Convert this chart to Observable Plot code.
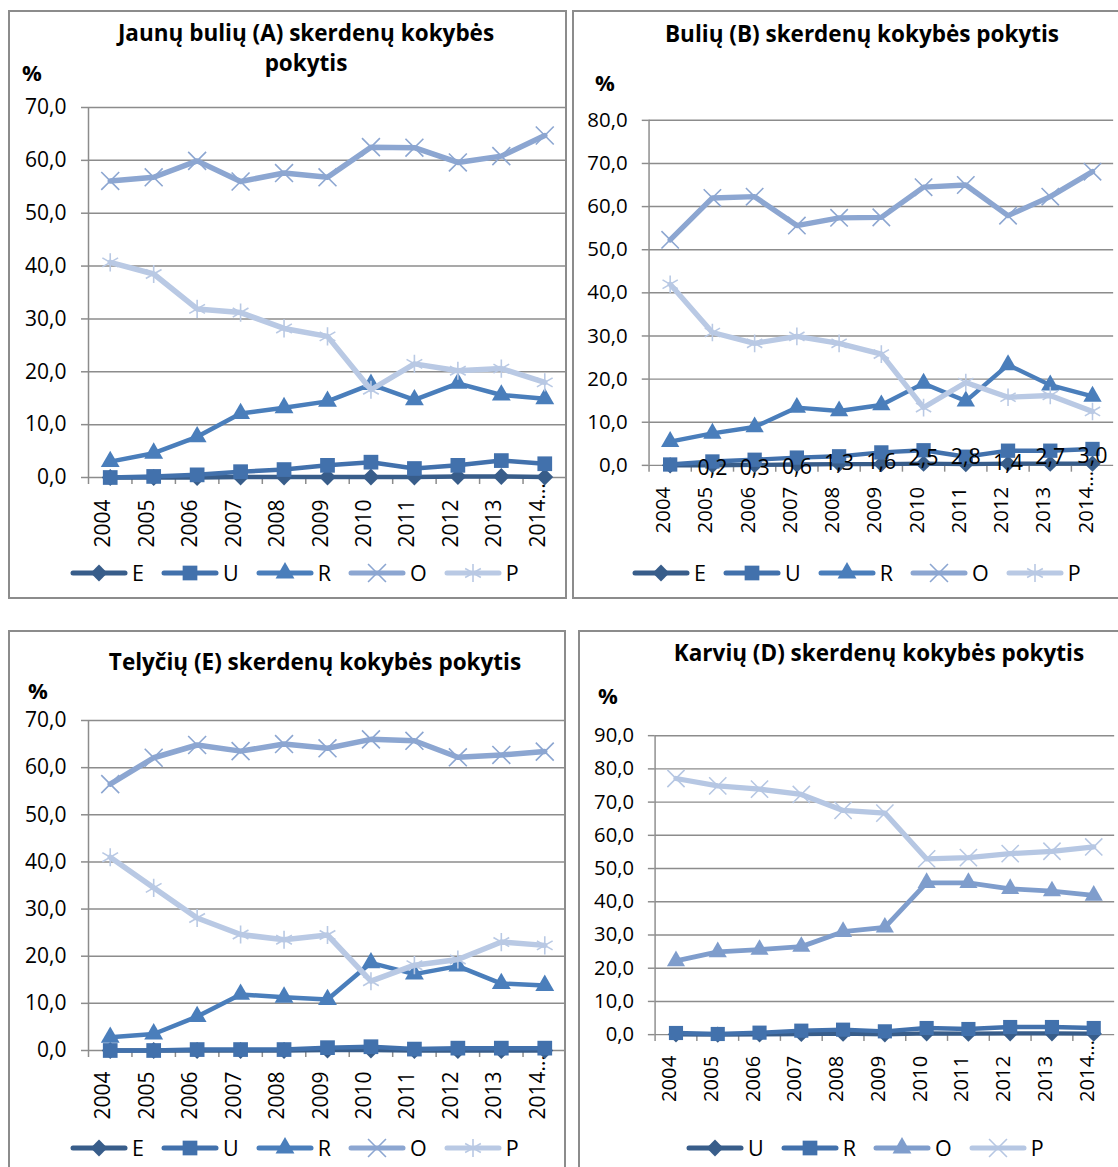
<!DOCTYPE html>
<html><head><meta charset="utf-8">
<script src="https://cdn.jsdelivr.net/npm/d3@7"></script>
<script src="https://cdn.jsdelivr.net/npm/@observablehq/plot@0.6"></script>
<style>
html,body{margin:0;padding:0;background:#fff;}
body{width:1118px;height:1167px;overflow:hidden;position:relative;font-family:'Open Sans',sans-serif;color:#000;}
.box{position:absolute;border:2px solid #8c8c8c;box-sizing:border-box;}
.title{position:absolute;font-weight:bold;font-size:22.5px;line-height:30px;text-align:center;white-space:nowrap;transform:translate(-50%,-50%);}
.pct{position:absolute;font-weight:bold;font-size:22px;line-height:1;transform:translateY(-50%);}
.plot{position:absolute;}
.legend{position:absolute;display:flex;align-items:center;gap:17px;font-size:21.5px;line-height:1;transform:translateY(-50%);white-space:nowrap;}
.item{display:flex;align-items:center;gap:4px;}
.item svg{display:block;}
</style></head><body>
<script>
// ---------- data ----------
const years = ["2004","2005","2006","2007","2008","2009","2010","2011","2012","2013","2014…"];

// Jaunų bulių (A)
const aSeries = ["E","U","R","O","P"];
const aE = [0.0, 0.0, 0.0, 0.1, 0.1, 0.1, 0.1, 0.1, 0.2, 0.2, 0.1];
const aU = [0.0, 0.2, 0.5, 1.1, 1.5, 2.3, 2.9, 1.7, 2.3, 3.2, 2.6];
const aR = [3.0, 4.6, 7.7, 12.1, 13.2, 14.4, 17.6, 14.7, 17.8, 15.6, 14.9];
const aO = [56.1, 56.8, 59.9, 56.0, 57.6, 56.8, 62.5, 62.4, 59.6, 60.8, 64.7];
const aP = [40.7, 38.5, 31.9, 31.2, 28.2, 26.7, 16.6, 21.5, 20.2, 20.6, 18.0];

// Bulių (B)
const bSeries = ["E","U","R","O","P"];
const bE = [0.0, 0.0, 0.1, 0.2, 0.3, 0.3, 0.4, 0.3, 0.4, 0.4, 0.4];
const bU = [0.2, 0.9, 1.3, 1.8, 2.1, 3.0, 3.5, 2.0, 3.4, 3.4, 3.8];
const bR = [5.5, 7.4, 8.9, 13.4, 12.6, 14.0, 19.0, 14.9, 23.3, 18.6, 16.0];
const bO = [52.3, 62.0, 62.3, 55.6, 57.4, 57.5, 64.5, 65.0, 57.9, 62.3, 68.1];
const bP = [42.0, 30.8, 28.3, 29.9, 28.3, 25.8, 13.4, 19.2, 15.8, 16.2, 12.5];
const bLabelYears = ["2005","2006","2007","2008","2009","2010","2011","2012","2013","2014…"];
const bLabelValues = [0.2, 0.3, 0.6, 1.3, 1.6, 2.5, 2.8, 1.4, 2.7, 3.0];

// Telyčių (E)
const cSeries = ["E","U","R","O","P"];
const cE = [0.0, 0.0, 0.0, 0.0, 0.0, 0.1, 0.1, 0.0, 0.0, 0.0, 0.0];
const cU = [0.0, 0.0, 0.2, 0.2, 0.2, 0.6, 0.8, 0.3, 0.5, 0.5, 0.5];
const cR = [2.8, 3.5, 7.2, 11.9, 11.3, 10.8, 18.6, 16.2, 17.9, 14.2, 13.8];
const cO = [56.5, 62.1, 64.8, 63.5, 65.0, 64.1, 66.0, 65.7, 62.2, 62.7, 63.4];
const cP = [41.0, 34.5, 28.1, 24.6, 23.5, 24.5, 14.7, 18.1, 19.3, 23.0, 22.3];

// Karvių (D)
const dSeries = ["U","R","O","P"];
const dU = [0.1, 0.0, 0.1, 0.2, 0.3, 0.1, 0.4, 0.3, 0.4, 0.4, 0.3];
const dR = [0.5, 0.2, 0.6, 1.2, 1.5, 1.0, 2.0, 1.7, 2.3, 2.3, 2.0];
const dO = [22.2, 24.9, 25.6, 26.5, 31.0, 32.3, 45.7, 45.7, 43.9, 43.2, 41.9];
const dP = [77.1, 74.9, 73.9, 72.3, 67.5, 66.7, 52.9, 53.3, 54.5, 55.2, 56.5];

const titles = {
  A: ["Jaunų bulių (A) skerdenų kokybės", "pokytis"],
  B: ["Bulių (B) skerdenų kokybės pokytis"],
  C: ["Telyčių (E) skerdenų kokybės pokytis"],
  D: ["Karvių (D) skerdenų kokybės pokytis"]
};
const unitLabel = "%";

// ---------- styles ----------
const colors5 = ["#385D8A", "#4271AC", "#4A7EBB", "#8CA6D1", "#B9C9E4"];
const symbols5 = ["diamond2", "square", "triangle", "times", "asterisk"];
const radii5 = [7.6, 8.3, 7.0, 8.2, 8.6];
const widths5 = [4.5, 4.5, 4.5, 5.5, 5.5];
const colors4 = ["#385D8A", "#4271AC", "#7F9DCC", "#B6C7E3"];
const symbols4 = ["diamond2", "square", "triangle", "times"];
const radii4 = [7.6, 8.3, 7.0, 8.2];
const widths4 = [4.5, 4.5, 5, 5.5];
const GRID = "#8c8c8c";
const FONT = "'Open Sans', sans-serif";
const fmt = d => d.toFixed(1).replace(".", ",");
const strokeSymbols = new Set(["times", "asterisk"]);
const d3Sym = {diamond2: d3.symbolDiamond2, square: d3.symbolSquare, triangle: d3.symbolTriangle, times: d3.symbolTimes, asterisk: d3.symbolAsterisk};

function el(tag, cls, style, text) {
  const e = document.createElement(tag);
  if (cls) e.className = cls;
  Object.assign(e.style, style || {});
  if (text != null) e.textContent = text;
  document.body.appendChild(e);
  return e;
}

function drawPanel(cfg) {
  el("div", "box", {left: cfg.box[0] + "px", top: cfg.box[1] + "px", width: cfg.box[2] + "px", height: cfg.box[3] + "px"});
  const t = el("div", "title", {left: cfg.title[0] + "px", top: cfg.title[1] + "px"});
  t.innerHTML = cfg.titleLines.join("<br>");
  el("div", "pct", {left: cfg.pct[0] + "px", top: cfg.pct[1] + "px"}, unitLabel);

  const rows = [];
  cfg.series.forEach((s, si) => cfg.values[si].forEach((v, i) => rows.push({series: s, year: years[i], value: v})));
  const plotW = cfg.w - cfg.ml - cfg.mr;
  const bw = plotW / years.length;
  const yTicks = d3.range(0, cfg.yMax + 1, 10);

  const marks = [
    Plot.gridY(yTicks, {stroke: GRID, strokeOpacity: 1, strokeWidth: 1.5}),
    Plot.ruleX([years[0]], {dx: -bw / 2, stroke: GRID, strokeWidth: 1.5}),
    Plot.axisX({tickSize: 7, tickFormat: () => "", label: null, dx: -bw / 2, stroke: GRID, strokeWidth: 1.5}),
    Plot.axisY({ticks: yTicks, tickFormat: fmt, label: null, tickSize: 7, tickPadding: 15, stroke: GRID, strokeWidth: 1.5, fontSize: 21, fill: "#000"}),
    Plot.text(years, {x: d => d, frameAnchor: "bottom", rotate: -90, textAnchor: "start", dy: cfg.labelDy, fontSize: 21, fill: "#000"})
  ];
  cfg.series.forEach((s, si) => {
    const data = rows.filter(r => r.series === s);
    marks.push(Plot.line(data, {x: "year", y: "value", stroke: cfg.colors[si], strokeWidth: cfg.widths[si], strokeLinejoin: "round", strokeLinecap: "round"}));
    const sym = cfg.symbols[si];
    if (strokeSymbols.has(sym)) {
      marks.push(Plot.dot(data, {x: "year", y: "value", symbol: sym, r: cfg.radii[si], stroke: cfg.colors[si], strokeWidth: 1.6, fill: "none"}));
    } else {
      marks.push(Plot.dot(data, {x: "year", y: "value", symbol: sym, r: cfg.radii[si], fill: cfg.colors[si], stroke: "none"}));
    }
  });
  if (cfg.labels) {
    const lrows = cfg.labels.years.map((y, i) => ({year: y, value: cfg.labels.values[i]}));
    marks.push(Plot.text(lrows, {x: "year", y: "value", text: d => fmt(d.value), fontSize: 22, fill: "#000", dy: 4}));
  }

  const svg = Plot.plot({
    width: cfg.w, height: cfg.h,
    marginLeft: cfg.ml, marginRight: cfg.mr, marginTop: cfg.mt, marginBottom: cfg.mb,
    x: {type: "band", domain: years, padding: 0, round: false, label: null},
    y: {domain: [0, cfg.yMax], label: null},
    style: {fontFamily: FONT, fontSize: "21px", color: "#000", background: "transparent", overflow: "visible"},
    marks
  });
  const holder = el("div", "plot", {left: cfg.svgPos[0] + "px", top: cfg.svgPos[1] + "px"});
  holder.appendChild(svg);

  const lg = el("div", "legend", {left: cfg.legend[0] + "px", top: cfg.legend[1] + "px"});
  cfg.series.forEach((s, si) => {
    const item = document.createElement("div");
    item.className = "item";
    const ns = "http://www.w3.org/2000/svg";
    const sv = document.createElementNS(ns, "svg");
    sv.setAttribute("width", 58); sv.setAttribute("height", 24);
    const ln = document.createElementNS(ns, "line");
    ln.setAttribute("x1", 3); ln.setAttribute("x2", 55); ln.setAttribute("y1", 12); ln.setAttribute("y2", 12);
    ln.setAttribute("stroke", cfg.colors[si]); ln.setAttribute("stroke-width", 5); ln.setAttribute("stroke-linecap", "round");
    sv.appendChild(ln);
    const p = document.createElementNS(ns, "path");
    const sym = cfg.symbols[si];
    p.setAttribute("d", d3.symbol(d3Sym[sym], Math.PI * cfg.radii[si] ** 2)());
    p.setAttribute("transform", "translate(29,12)");
    if (strokeSymbols.has(sym)) { p.setAttribute("fill", "none"); p.setAttribute("stroke", cfg.colors[si]); p.setAttribute("stroke-width", 1.6); }
    else p.setAttribute("fill", cfg.colors[si]);
    sv.appendChild(p);
    item.appendChild(sv);
    const tx = document.createElement("span");
    tx.textContent = s;
    item.appendChild(tx);
    lg.appendChild(item);
  });
}

drawPanel({box: [8, 10, 559, 589], title: [306, 48], titleLines: titles.A, pct: [22, 72],
  series: aSeries, values: [aE, aU, aR, aO, aP], colors: colors5, symbols: symbols5, radii: radii5, widths: widths5,
  yMax: 70, svgPos: [0, 80], w: 570, h: 500, ml: 88, mr: 4, mt: 27, mb: 103, labelDy: 70, legend: [70, 573]});

drawPanel({box: [572, 10, 560, 589], title: [862, 34], titleLines: titles.B, pct: [595, 82],
  series: bSeries, values: [bE, bU, bR, bO, bP], colors: colors5, symbols: symbols5, radii: radii5, widths: widths5,
  yMax: 80, svgPos: [564, 80], w: 570, h: 500, ml: 87, mr: 5, mt: 41, mb: 104, labelDy: 70, legend: [632, 573],
  labels: {years: bLabelYears, values: bLabelValues}});

drawPanel({box: [8, 630, 558, 560], title: [315, 662], titleLines: titles.C, pct: [28, 690],
  series: cSeries, values: [cE, cU, cR, cO, cP], colors: colors5, symbols: symbols5, radii: radii5, widths: widths5,
  yMax: 70, svgPos: [0, 690], w: 570, h: 500, ml: 88, mr: 4, mt: 30, mb: 140, labelDy: 69, legend: [70, 1148]});

drawPanel({box: [578, 630, 560, 560], title: [879, 653], titleLines: titles.D, pct: [598, 695],
  series: dSeries, values: [dU, dR, dO, dP], colors: colors4, symbols: symbols4, radii: radii4, widths: widths4,
  yMax: 90, svgPos: [570, 690], w: 570, h: 500, ml: 88, mr: 4, mt: 47, mb: 142, labelDy: 70, legend: [686, 1148]});
</script>
</body></html>
